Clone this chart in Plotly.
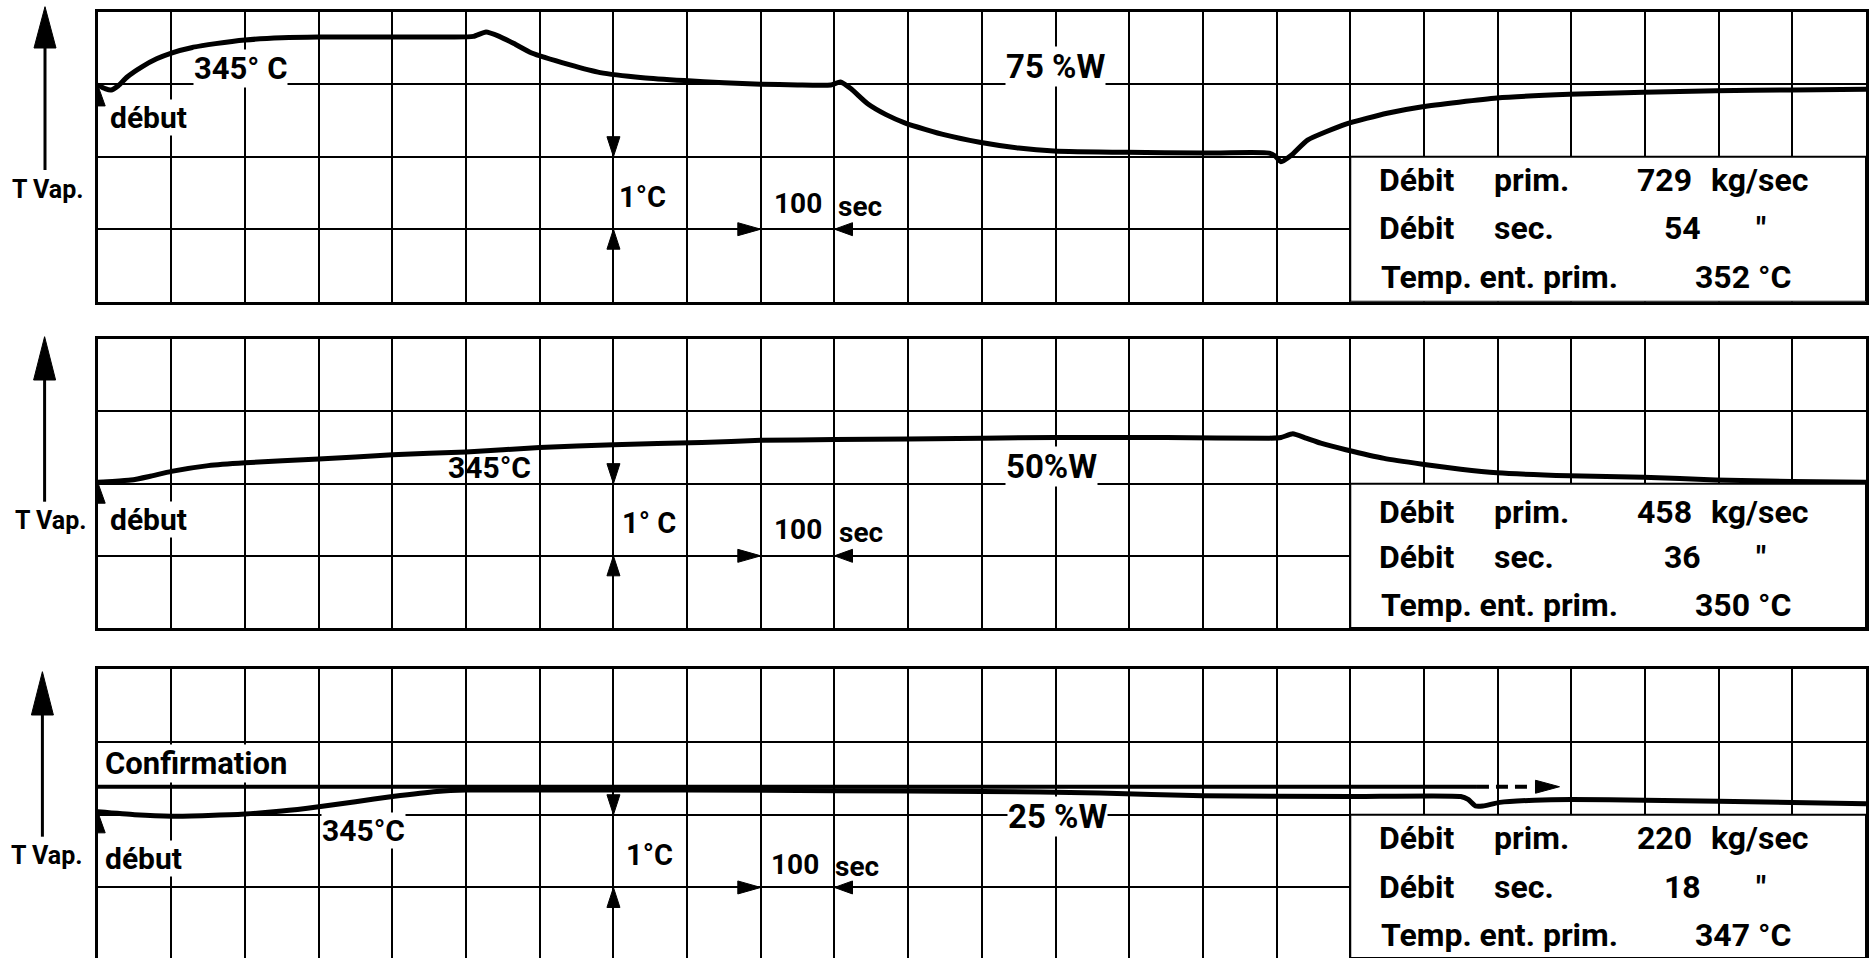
import plotly.graph_objects as go

# ---------------- data (time in s, steam temperature in °C) ----------------
time_75 = [0, 10, 18, 28, 40, 60, 80, 100, 130, 160, 200, 250, 300, 400, 480, 510, 527,
           545, 565, 589, 640, 682, 740, 796, 850, 900, 950, 995, 1008, 1022, 1045, 1070,
           1097, 1150, 1197, 1250, 1298, 1397, 1500, 1590, 1598, 1606, 1620, 1642, 1694,
           1750, 1798, 1899, 1997, 2098, 2196, 2300, 2400]
temp_75 = [344.99, 344.94, 344.92, 344.98, 345.10, 345.24, 345.35, 345.43, 345.51, 345.56,
           345.61, 345.64, 345.65, 345.65, 345.65, 345.66, 345.72, 345.66, 345.56, 345.43,
           345.27, 345.16, 345.09, 345.05, 345.02, 345.00, 344.99, 344.99, 345.03, 344.94,
           344.73, 344.58, 344.46, 344.30, 344.20, 344.12, 344.08, 344.06, 344.05, 344.05,
           344.01, 343.93, 344.02, 344.23, 344.45, 344.60, 344.69, 344.81, 344.86, 344.89,
           344.91, 344.92, 344.93]

time_50 = [0, 20, 45, 70, 100, 150, 200, 300, 400, 500, 600, 700, 820, 900, 1000, 1100,
           1300, 1450, 1590, 1606, 1622, 1640, 1660, 1694, 1746, 1798, 1850, 1899, 1997,
           2098, 2196, 2300, 2400]
temp_50 = [345.02, 345.03, 345.05, 345.10, 345.17, 345.25, 345.29, 345.34, 345.40, 345.44,
           345.50, 345.54, 345.57, 345.60, 345.61, 345.62, 345.64, 345.64, 345.63, 345.64,
           345.69, 345.63, 345.56, 345.47, 345.35, 345.27, 345.20, 345.15, 345.11, 345.09,
           345.05, 345.03, 345.02]

time_25 = [0, 50, 100, 150, 200, 250, 300, 350, 400, 460, 500, 600, 800, 1000, 1200, 1360,
           1500, 1700, 1850, 1860, 1870, 1880, 1903, 1950, 2000, 2100, 2300, 2400]
temp_25 = [345.04, 345.00, 344.98, 344.99, 345.01, 345.05, 345.11, 345.18, 345.25, 345.32,
           345.34, 345.34, 345.34, 345.33, 345.32, 345.30, 345.26, 345.25, 345.25, 345.21,
           345.12, 345.12, 345.17, 345.20, 345.21, 345.20, 345.17, 345.15]

conf_time = [0, 1872]
conf_temp = [345.385, 345.385]
conf_dash_time = [1872, 1948]
conf_arrow_tip = 1984

load_labels = ["75 %W", "50%W", "25 %W"]
ref_labels = ["345° C", "345°C", "345°C"]
debit_prim = ["729", "458", "220"]
debit_sec = ["54", "36", "18"]
temp_ent = ["352 °C", "350 °C", "347 °C"]

# ---------------- geometry / style ----------------
W, H = 1869, 958
X0, X1 = 97.7, 1866.0
T_MAX = 2400
PPX = (X1 - X0) / T_MAX          # pixels per second
FONT = "Roboto, 'Liberation Sans', 'DejaVu Sans', sans-serif"
WEIGHT = "bold"

panels = [
    dict(top=11.7, bottom=301.7, yr=(342, 346), upper=344, lower=343,
         vap=(45, 6.7, 48, 170, 48, 190)),
    dict(top=339.3, bottom=628.0, yr=(343, 347), upper=345, lower=344,
         vap=(44.6, 336.7, 380, 501.7, 51, 520)),
    dict(top=669.3, bottom=958.0, yr=(343.03, 347), upper=345, lower=344,
         vap=(42.4, 671.7, 715, 836.7, 47, 855)),
]
series = [(time_75, temp_75), (time_50, temp_50), (time_25, temp_25)]

fig = go.Figure()
shapes, annotations = [], []


def axref(i):
    return ("x", "y") if i == 0 else (f"x{i+1}", f"y{i+1}")


def head(i, tip_x, tip_y, direction, length, half):
    """Filled arrow head (sizes in px) in data coordinates of panel i."""
    p = panels[i]
    ppd = (p["bottom"] - p["top"]) / (p["yr"][1] - p["yr"][0])
    xr, yr = axref(i)
    if direction in ("up", "down"):
        s = -1 if direction == "up" else 1
        by = tip_y + s * length / ppd
        dx = half / PPX
        path = f"M {tip_x},{tip_y} L {tip_x - dx},{by} L {tip_x + dx},{by} Z"
    else:
        s = -1 if direction == "right" else 1
        bx = tip_x + s * length / PPX
        dy = half / ppd
        path = f"M {tip_x},{tip_y} L {bx},{tip_y - dy} L {bx},{tip_y + dy} Z"
    shapes.append(dict(type="path", path=path, xref=xr, yref=yr, fillcolor="black",
                       line=dict(color="black", width=1), layer="above"))


def text(i, x, y, s, size=30, xanchor="left", bg=None):
    xr, yr = axref(i)
    annotations.append(dict(x=x, y=y, xref=xr, yref=yr, text=s, showarrow=False,
                            xanchor=xanchor, yanchor="middle",
                            font=dict(family=FONT, size=size, color="black", weight=WEIGHT),
                            bgcolor=bg if bg else "rgba(0,0,0,0)", borderpad=0))


layout = dict(width=W, height=H, margin=dict(l=0, r=0, t=0, b=0),
              paper_bgcolor="white", plot_bgcolor="white", showlegend=False)

for i, p in enumerate(panels):
    xr, yr = axref(i)
    xa = "xaxis" if i == 0 else f"xaxis{i+1}"
    ya = "yaxis" if i == 0 else f"yaxis{i+1}"
    common = dict(showgrid=True, gridcolor="black", gridwidth=2, showline=True, mirror=True,
                  linecolor="black", linewidth=3, zeroline=False, showticklabels=False,
                  ticks="", fixedrange=True)
    layout[xa] = dict(domain=[X0 / W, X1 / W], range=[0, T_MAX], dtick=100, tick0=0,
                      anchor=yr, **common)
    layout[ya] = dict(domain=[1 - p["bottom"] / H, 1 - p["top"] / H], range=list(p["yr"]),
                      dtick=1, tick0=340, anchor=xr, **common)

    t, T = series[i]
    fig.add_trace(go.Scatter(x=t, y=T, mode="lines", xaxis=xr, yaxis=yr, hoverinfo="skip",
                             line=dict(color="black", width=5, shape="spline", smoothing=0.5)))

    # info box (lower right)
    shapes.append(dict(type="rect", xref=xr, yref=yr, x0=1700, x1=T_MAX, y0=p["yr"][0],
                       y1=p["upper"], fillcolor="white", line=dict(color="black", width=2),
                       layer="above"))

    # T Vap. arrow (outside the grid)
    ax, tip, base, bot, tx, ty = p["vap"]
    shapes.append(dict(type="line", xref="paper", yref="paper", x0=ax / W, x1=ax / W,
                       y0=1 - base / H, y1=1 - bot / H, line=dict(color="black", width=3)))
    shapes.append(dict(type="path", xref="paper", yref="paper", fillcolor="black",
                       line=dict(color="black", width=1),
                       path=f"M {ax / W},{1 - tip / H} L {(ax - 11) / W},{1 - base / H} "
                            f"L {(ax + 11) / W},{1 - base / H} Z"))
    annotations.append(dict(x=tx / W, y=1 - ty / H, xref="paper", yref="paper",
                            text="T Vap.", showarrow=False, xanchor="center",
                            yanchor="middle",
                            font=dict(family=FONT, size=25, color="black", weight=WEIGHT)))

    # début arrow head
    head(i, t[0], T[0], "up", 21, 7.5)
    # 1 °C arrows
    head(i, 700, p["upper"], "down", 20, 6.5)
    head(i, 700, p["lower"], "up", 20, 6.5)
    # 100 sec arrows
    head(i, 900, p["lower"], "right", 23, 6.5)
    head(i, 1000, p["lower"], "left", 18, 6.5)

# confirmation line (panel 3)
fig.add_trace(go.Scatter(x=conf_time, y=conf_temp, mode="lines", xaxis="x3", yaxis="y3",
                         hoverinfo="skip", line=dict(color="black", width=4)))
fig.add_trace(go.Scatter(x=conf_dash_time, y=conf_temp, mode="lines", xaxis="x3",
                         yaxis="y3", hoverinfo="skip",
                         line=dict(color="black", width=4, dash="12px,7px")))
head(2, conf_arrow_tip, conf_temp[0], "right", 24, 6.5)

# ---------------- texts ----------------
# panel 1
text(0, 194, 345.22, ref_labels[0], 31, "center", "white")
text(0, 16, 344.54, "début", 30, "left", "white")
text(0, 1300, 345.24, load_labels[0], 33, "center", "white")
text(0, 706, 343.45, "1°C", 29)
text(0, 950, 343.36, "100", 28, "center")
text(0, 1003, 343.31, "sec", 28)
# panel 2
text(1, 532, 345.22, ref_labels[1], 30, "center")
text(1, 1294, 345.24, load_labels[1], 33, "center", "white")
text(1, 15, 344.50, "début", 30, "left", "white")
text(1, 710, 344.46, "1° C", 29)
text(1, 951, 344.36, "100", 28, "center")
text(1, 1005, 344.32, "sec", 28)
# panel 3
text(2, 8, 345.70, "Confirmation", 31, "left", "white")
text(2, 361, 344.79, ref_labels[2], 30, "center", "white")
text(2, 1302, 344.97, load_labels[2], 33, "center", "white")
text(2, 8, 344.40, "début", 30, "left", "white")
text(2, 716, 344.45, "1°C", 29)
text(2, 946, 344.32, "100", 28, "center")
text(2, 999, 344.285, "sec", 28)

# info boxes
box_rows = [(343.68, 343.02, 342.34), (344.61, 343.99, 343.32), (344.68, 344.01, 343.35)]
for i, (r1, r2, r3) in enumerate(box_rows):
    text(i, 1737, r1, "Débit", 32)
    text(i, 1894, r1, "prim.", 32)
    text(i, 2088, r1, debit_prim[i], 32)
    text(i, 2322, r1, "kg/sec", 32, "right")
    text(i, 1737, r2, "Débit", 32)
    text(i, 1894, r2, "sec.", 32)
    text(i, 2125, r2, debit_sec[i], 32)
    text(i, 2257, r2, '"', 32, "center")
    text(i, 1740, r3, "Temp. ent. prim.", 32)
    text(i, 2167, r3, temp_ent[i], 32)

layout["shapes"] = shapes
layout["annotations"] = annotations
fig.update_layout(**layout)
fig.write_html("out.html")
